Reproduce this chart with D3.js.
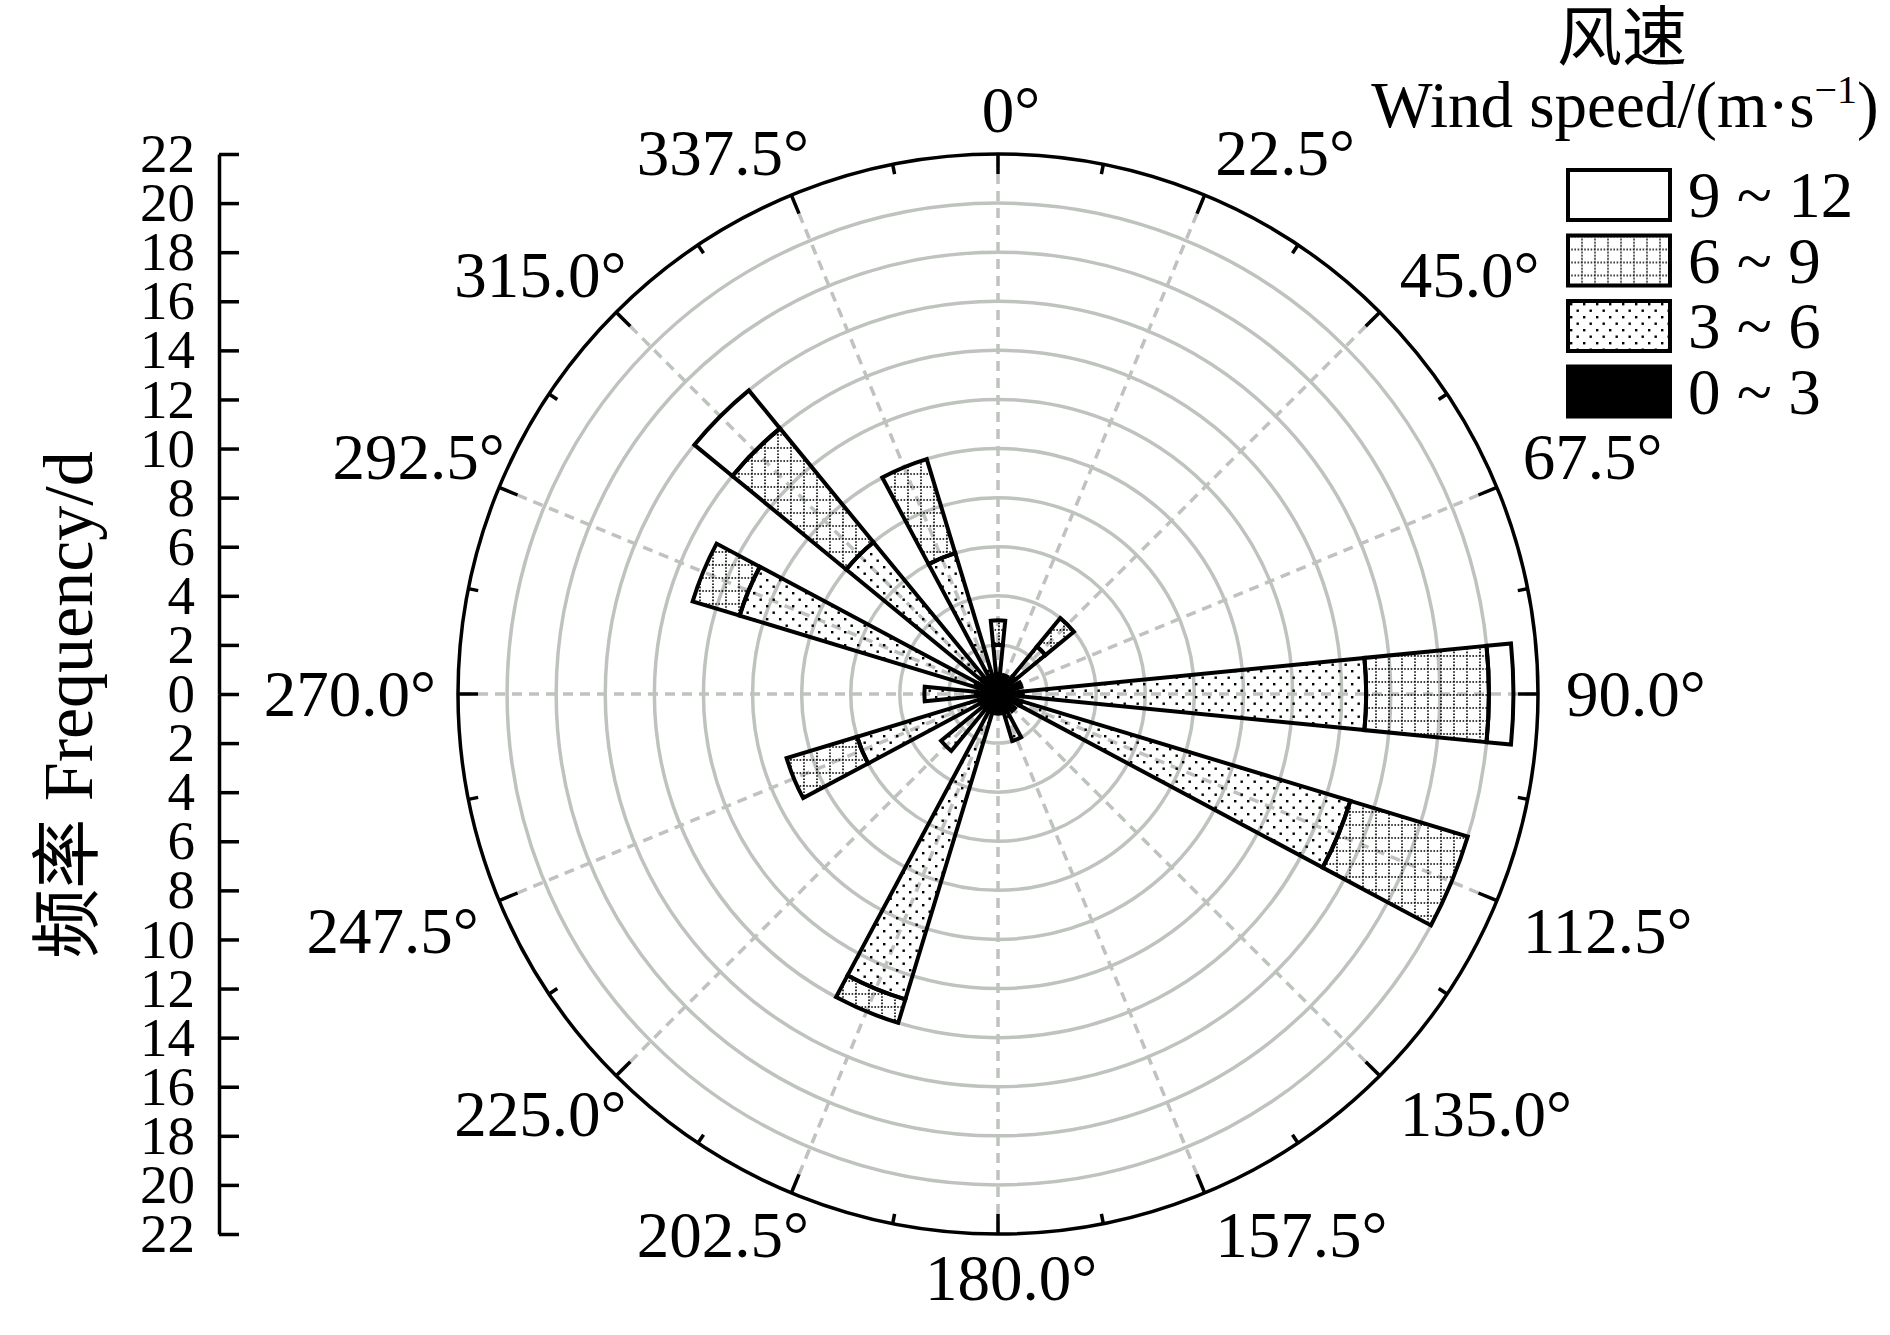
<!DOCTYPE html>
<html>
<head>
<meta charset="utf-8">
<script src="https://cdn.jsdelivr.net/npm/d3@7"></script>
<style>
body { margin: 0; background: #fff; }
text { font-family: "Liberation Serif", "Noto Sans CJK SC", serif; fill: #000; }
</style>
</head>
<body>
<div id="chart"></div>
<script>
// wind direction sectors (deg, clockwise from north)
var directions = [0, 22.5, 45, 67.5, 90, 112.5, 135, 157.5, 180, 202.5, 225, 247.5, 270, 292.5, 315, 337.5];
var dirLabels = ["0", "22.5", "45.0", "67.5", "90.0", "112.5", "135.0", "157.5",
                 "180.0", "202.5", "225.0", "247.5", "270.0", "292.5", "315.0", "337.5"];

// frequency (days) per speed class
var speed0_3  = [0.8, 0.8, 0.9, 1.0, 1.0, 1.0, 0.9, 0.8, 0.8, 0.8, 0.8, 0.8, 0.9, 0.9, 0.8, 0.8];
var speed3_6  = [1.2, 0, 1.6, 0, 14.0, 14.0, 0, 1.2, 0, 12.2, 2.2, 5.2, 2.1, 10.1, 7.2, 5.2];
var speed6_9  = [1.0, 0, 1.5, 0, 5.0, 5.0, 0, 0, 0, 1.0, 0, 3.0, 0, 2.0, 6.0, 4.0];
var speed9_12 = [0, 0, 0, 0, 1.0, 0, 0, 0, 0, 0, 0, 0, 0, 0, 2.0, 0];

var speedKeys = ["s0_3", "s3_6", "s6_9", "s9_12"];
var speedLabels = ["0 ~ 3", "3 ~ 6", "6 ~ 9", "9 ~ 12"];
var radialTicks = [0, 2, 4, 6, 8, 10, 12, 14, 16, 18, 20, 22];

var width = 1890, height = 1335;
var cx = 998, cy = 694, R = 540;
var bigFont = 65, tickFont = 55;

var svg = d3.select("#chart").append("svg")
    .attr("width", width)
    .attr("height", height);

// fill patterns
var defs = svg.append("defs");
var pDots = defs.append("pattern").attr("id", "dots")
    .attr("patternUnits", "userSpaceOnUse").attr("width", 13).attr("height", 13);
pDots.append("rect").attr("x", 2).attr("y", 2).attr("width", 2.4).attr("height", 2.4).attr("fill", "#000");
pDots.append("rect").attr("x", 8.5).attr("y", 8.5).attr("width", 2.4).attr("height", 2.4).attr("fill", "#000");

var pGrid = defs.append("pattern").attr("id", "grid")
    .attr("patternUnits", "userSpaceOnUse").attr("width", 13).attr("height", 13);
pGrid.append("path").attr("d", "M0,1 H13 M1,0 V13")
    .attr("stroke", "#000").attr("stroke-width", 1.6)
    .attr("stroke-dasharray", "1.6,1.6").attr("fill", "none");

var fills = { s0_3: "#000", s3_6: "url(#dots)", s6_9: "url(#grid)", s9_12: "none" };

var r = d3.scaleLinear().domain([0, 22]).range([0, R]);
function rad(deg) { return deg * Math.PI / 180; }

var g = svg.append("g").attr("transform", "translate(" + cx + "," + cy + ")");

// grid circles
g.append("g").selectAll("circle")
    .data(radialTicks.filter(function(d) { return d > 0 && d < 22; }))
  .enter().append("circle")
    .attr("r", function(d) { return r(d); })
    .attr("fill", "none")
    .attr("stroke", "#bec3be")
    .attr("stroke-width", 3.5);

// dashed spokes
g.append("g").selectAll("line")
    .data(directions)
  .enter().append("line")
    .attr("x1", 0).attr("y1", 0)
    .attr("x2", function(d) { return r(22) * Math.sin(rad(d)); })
    .attr("y2", function(d) { return -r(22) * Math.cos(rad(d)); })
    .attr("stroke", "#bec3be")
    .attr("stroke-width", 3.5)
    .attr("stroke-dasharray", "10,7");

// stacked bars
var rows = directions.map(function(d, i) {
  return { dir: d, s0_3: speed0_3[i], s3_6: speed3_6[i], s6_9: speed6_9[i], s9_12: speed9_12[i] };
});
var series = d3.stack().keys(speedKeys)(rows);
var halfW = 22.5 / 4;

var arc = d3.arc()
    .innerRadius(function(d) { return r(d[0]); })
    .outerRadius(function(d) { return r(d[1]); })
    .startAngle(function(d) { return rad(d.data.dir - halfW); })
    .endAngle(function(d) { return rad(d.data.dir + halfW); });

g.append("g").selectAll("g")
    .data(series)
  .enter().append("g")
    .attr("fill", function(s) { return fills[s.key]; })
  .selectAll("path")
    .data(function(s) { return s.filter(function(d) { return d[1] - d[0] > 0; }); })
  .enter().append("path")
    .attr("d", arc)
    .attr("stroke", "#000")
    .attr("stroke-width", 4)
    .attr("stroke-linejoin", "miter");

// outer circle and ticks
g.append("circle").attr("r", R).attr("fill", "none").attr("stroke", "#000").attr("stroke-width", 3.5);
var tickAngles = d3.range(0, 360, 11.25);
g.append("g").selectAll("line")
    .data(tickAngles)
  .enter().append("line")
    .attr("x1", function(d) { return R * Math.sin(rad(d)); })
    .attr("y1", function(d) { return -R * Math.cos(rad(d)); })
    .attr("x2", function(d) { var l = (d % 22.5 === 0) ? 20 : 10; return (R - l) * Math.sin(rad(d)); })
    .attr("y2", function(d) { var l = (d % 22.5 === 0) ? 20 : 10; return -(R - l) * Math.cos(rad(d)); })
    .attr("stroke", "#000")
    .attr("stroke-width", 3.5);

// angle labels: the number box is placed outside the circle, the degree sign hangs after it
var labelR = 562, digitH = 0.68 * bigFont;
g.append("g").selectAll("text")
    .data(directions)
  .enter().append("text")
    .style("font-size", bigFont + "px")
    .text(function(d, i) { return dirLabels[i]; })
    .each(function(d) {
      var t = d3.select(this);
      var wn = this.getComputedTextLength();
      t.append("tspan").text("°");
      var wf = this.getComputedTextLength();
      var s = Math.sin(rad(d)), c = Math.cos(rad(d));
      var px = labelR * s, py = -labelR * c;
      var w = (c > 0.01 || c < -0.5) ? wn : wf;
      var left;
      if (Math.abs(s) < 0.01) left = px - wn / 2;
      else if (s > 0) left = px + 6 * Math.abs(s);
      else left = px - w;
      var by = Math.abs(c) < 0.01 ? py : py - Math.sign(c) * digitH / 2;
      t.attr("x", left).attr("y", by + digitH / 2);
    });

// radial axis on the left
var axisX = 219;
var yTop = d3.scaleLinear().domain([0, 22]).range([cy, cy - R]);
var yBot = d3.scaleLinear().domain([0, 22]).range([cy, cy + R]);

var axTop = svg.append("g").attr("transform", "translate(" + axisX + ",0)")
    .call(d3.axisLeft(yTop).tickValues(radialTicks).tickSizeInner(-20).tickSizeOuter(0).tickPadding(24));
var axBot = svg.append("g").attr("transform", "translate(" + axisX + ",0)")
    .call(d3.axisLeft(yBot).tickValues(radialTicks.slice(1)).tickSizeInner(-20).tickSizeOuter(0).tickPadding(24));

[axTop, axBot].forEach(function(ax) {
  ax.select(".domain").attr("stroke", "#000").attr("stroke-width", 3.5);
  ax.selectAll(".tick line").attr("stroke", "#000").attr("stroke-width", 3.5);
  ax.selectAll(".tick text")
      .style("font-size", tickFont + "px")
      .style("font-family", "'Liberation Serif', serif")
      .attr("fill", "#000");
});

svg.append("text")
    .attr("transform", "translate(92," + 705 + ") rotate(-90)")
    .style("text-anchor", "middle")
    .style("font-size", "70px")
    .text("频率 Frequency/d");

// legend
svg.append("text")
    .attr("x", 1622).attr("y", 60)
    .style("text-anchor", "middle")
    .style("font-size", bigFont + "px")
    .text("风速");

var lt = svg.append("text")
    .attr("x", 1625).attr("y", 127)
    .style("text-anchor", "middle")
    .style("font-size", bigFont + "px");
lt.append("tspan").text("Wind speed/(m·s");
lt.append("tspan").attr("dy", -24).style("font-size", "40px").text("−1");
lt.append("tspan").attr("dy", 24).text(")");

var legendKeys = speedKeys.slice().reverse();
var legendText = speedLabels.slice().reverse();
var leg = svg.append("g").attr("transform", "translate(1568,170)");
var item = leg.selectAll("g")
    .data(legendKeys)
  .enter().append("g")
    .attr("transform", function(d, i) { return "translate(0," + (i * 65.5) + ")"; });
item.append("rect")
    .attr("width", 102).attr("height", 50)
    .attr("fill", function(d) { return fills[d] === "none" ? "#fff" : fills[d]; })
    .attr("stroke", "#000").attr("stroke-width", 4);
item.append("text")
    .attr("x", 120).attr("y", 47)
    .style("font-size", bigFont + "px")
    .text(function(d, i) { return legendText[i]; });
</script>
</body>
</html>
